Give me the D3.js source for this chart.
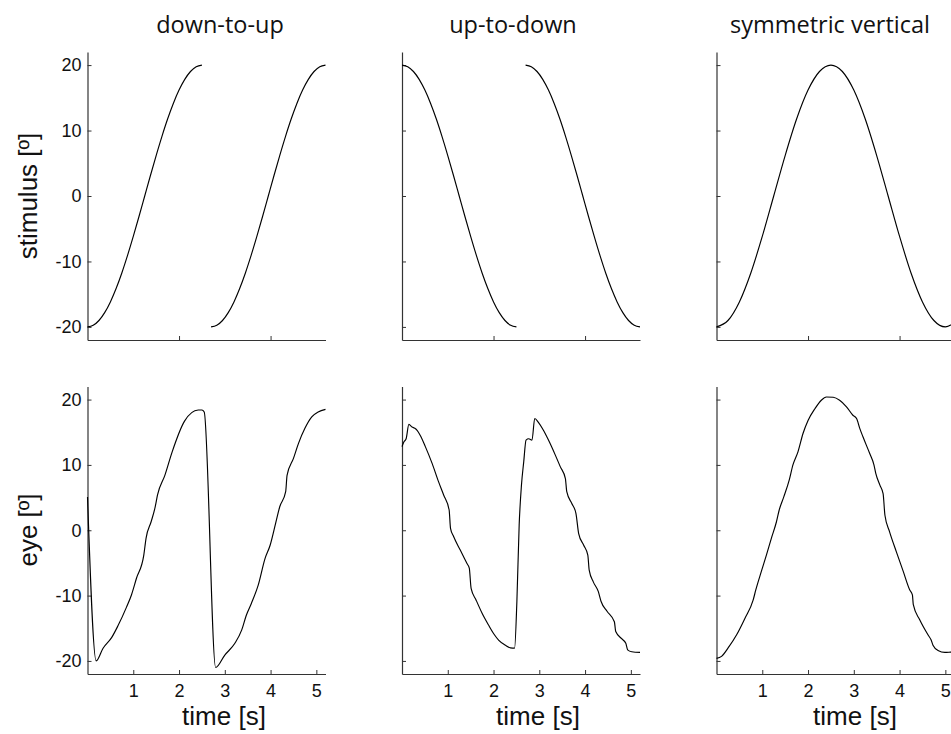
<!DOCTYPE html>
<html>
<head>
<meta charset="utf-8">
<script src="https://cdn.jsdelivr.net/npm/d3@7"></script>
<style>
  html, body { margin: 0; padding: 0; background: #fff; }
  svg { display: block; }
  .tick text { font-family: "Liberation Sans", Arial, Helvetica, sans-serif; font-size: 18px; fill: #111; }
</style>
</head>
<body>
<svg id="chart" width="951" height="734"></svg>
<script>
// ---------- data ----------
const panelTitles = ["down-to-up", "up-to-down", "symmetric vertical"];
const rowLabels = ["stimulus [º]", "eye [º]"];
const xLabel = "time [s]";
const yTicks = [-20, -10, 0, 10, 20];
const xTicksTop = [2, 4];
const xTicksBottom = [1, 2, 3, 4, 5];

// stimulus: rising / falling half-cycles
const stimT1 = [0,0.125,0.25,0.375,0.5,0.625,0.75,0.875,1,1.125,1.25,1.375,1.5,1.625,1.75,1.875,2,2.125,2.25,2.375,2.5];
const stimT2 = [2.7,2.825,2.95,3.075,3.2,3.325,3.45,3.575,3.7,3.825,3.95,4.075,4.2,4.325,4.45,4.575,4.7,4.825,4.95,5.075,5.2];
const riseVals = [-20,-19.75,-19.02,-17.82,-16.18,-14.14,-11.76,-9.08,-6.18,-3.13,0,3.13,6.18,9.08,11.76,14.14,16.18,17.82,19.02,19.75,20];
const fallVals = [20,19.75,19.02,17.82,16.18,14.14,11.76,9.08,6.18,3.13,0,-3.13,-6.18,-9.08,-11.76,-14.14,-16.18,-17.82,-19.02,-19.75,-20];
// symmetric stimulus
const symT = [0,0.25,0.5,0.75,1,1.25,1.5,1.75,2,2.25,2.5,2.75,3,3.25,3.5,3.75,4,4.25,4.5,4.75,5,5.2];
const symVals = [-20,-19.02,-16.18,-11.76,-6.18,0,6.18,11.76,16.18,19.02,20,19.02,16.18,11.76,6.18,0,-6.18,-11.76,-16.18,-19.02,-20,-19.37];

// eye traces
const eyeUpT = [0,0.19,0.34,0.53,0.66,0.85,0.96,1.07,1.23,1.28,1.39,1.48,1.53,1.69,1.85,2.12,2.42,2.5,2.55,2.8,3.0,3.22,3.37,3.47,3.58,3.73,3.88,3.99,4.11,4.2,4.33,4.36,4.5,4.61,4.75,4.9,5.04,5.2];
const eyeUpV = [5.1,-20.0,-18.05,-16.4,-14.7,-11.8,-9.9,-7.35,-3.8,-1.2,1.3,3.6,5.4,8.4,12.0,16.7,18.4,18.4,18.1,-21.0,-19.1,-17.3,-15.25,-13.0,-11.2,-8.4,-4.3,-2.3,1.05,3.6,5.9,8.4,11.0,13.3,15.6,17.35,18.1,18.5];

const eyeDownT = [0,0.04,0.09,0.15,0.22,0.28,0.33,0.4,0.51,0.66,0.8,0.91,1.03,1.06,1.13,1.27,1.42,1.47,1.51,1.62,1.75,1.89,2.0,2.11,2.26,2.37,2.46,2.51,2.56,2.61,2.66,2.71,2.77,2.84,2.9,2.98,3.09,3.2,3.35,3.46,3.57,3.6,3.71,3.8,3.86,3.97,4.06,4.09,4.18,4.29,4.35,4.48,4.64,4.67,4.8,4.89,4.93,5.02,5.2];
const eyeDownV = [12.8,13.5,14.0,16.2,15.8,15.6,15.3,14.5,12.8,10.2,7.4,5.4,3.1,0.3,-1.0,-3.0,-5.1,-5.8,-8.9,-10.7,-12.7,-14.5,-15.8,-16.8,-17.6,-18.0,-18.05,-10.9,0.8,6.9,10.5,13.8,14.0,13.8,17.1,16.5,15.3,13.8,11.5,9.7,7.9,5.9,4.1,2.6,-0.5,-2.3,-3.8,-6.1,-7.9,-9.4,-10.9,-12.4,-14.0,-15.5,-16.6,-17.3,-18.3,-18.6,-18.7];

const eyeSymT = [0,0.11,0.25,0.44,0.62,0.8,0.86,0.98,1.09,1.2,1.31,1.37,1.47,1.59,1.67,1.78,1.89,2.0,2.15,2.29,2.4,2.55,2.69,2.84,2.98,3.06,3.13,3.2,3.35,3.44,3.48,3.57,3.64,3.68,3.78,3.93,4.08,4.22,4.28,4.3,4.44,4.62,4.69,4.73,4.84,4.99,5.11,5.2];
const eyeSymV = [-19.6,-19.3,-18.05,-16.0,-13.5,-10.7,-9.1,-6.3,-3.8,-1.2,1.3,3.1,5.1,7.7,10.0,12.0,14.8,16.8,18.6,19.9,20.4,20.35,19.9,18.9,17.6,17.1,15.6,14.3,11.7,10.0,8.7,6.9,5.6,2.3,-0.2,-3.3,-6.3,-9.1,-9.9,-11.4,-13.7,-16.0,-16.8,-17.6,-18.4,-18.7,-18.65,-18.6];

// ---------- layout ----------
const svg = d3.select("#chart");
const panelLeft = [87.5, 402, 716.5];
const panelWidth = 238;
const rows = [{top: 52, bottom: 340}, {top: 386.5, bottom: 674}];
const titleX = [220, 513, 830];
const xLabelX = [224, 538, 855];

const zip = (ts, vs) => ts.map((t, i) => ({t, v: vs[i]}));

const panelSeries = [
  [ [zip(stimT1, riseVals), zip(stimT2, riseVals)], [zip(eyeUpT, eyeUpV)] ],
  [ [zip(stimT1, fallVals), zip(stimT2, fallVals)], [zip(eyeDownT, eyeDownV)] ],
  [ [zip(symT, symVals)], [zip(eyeSymT, eyeSymV)] ]
];

const axisColor = "#333";

for (let c = 0; c < 3; c++) {
  for (let r = 0; r < 2; r++) {
    const x = d3.scaleLinear().domain([0, 5.2]).range([panelLeft[c], panelLeft[c] + panelWidth]);
    const y = d3.scaleLinear().domain([-22, 22]).range([rows[r].bottom, rows[r].top]);
    const g = svg.append("g");

    const yAxis = d3.axisLeft(y).tickValues(yTicks).tickSizeInner(-4).tickSizeOuter(0).tickPadding(6)
      .tickFormat(c === 0 ? (d => String(d)) : () => "");
    const ya = g.append("g").attr("transform", `translate(${panelLeft[c]},0)`).call(yAxis);

    const xAxis = d3.axisBottom(x).tickValues(r === 0 ? xTicksTop : xTicksBottom)
      .tickSizeInner(-4).tickSizeOuter(0).tickPadding(10)
      .tickFormat(r === 0 ? () => "" : (d => String(d)));
    const xa = g.append("g").attr("transform", `translate(0,${rows[r].bottom})`).call(xAxis);

    [ya, xa].forEach(a => {
      a.select(".domain").attr("stroke", axisColor).attr("stroke-width", 1.2);
      a.selectAll(".tick line").attr("stroke", axisColor).attr("stroke-width", 1);
    });

    const line = d3.line().x(d => x(d.t)).y(d => y(d.v)).curve(d3.curveMonotoneX);
    panelSeries[c][r].forEach(seg => {
      g.append("path").datum(seg).attr("d", line)
        .attr("fill", "none").attr("stroke", "#000").attr("stroke-width", 1.15)
        .attr("stroke-linejoin", "round");
    });

    if (r === 1) {
      g.append("text").attr("x", xLabelX[c]).attr("y", 725).attr("text-anchor", "middle")
        .attr("font-family", "'Liberation Sans', Arial, Helvetica, sans-serif").attr("font-size", 26)
        .attr("fill", "#111").text(xLabel);
    }
  }
  svg.append("text").attr("x", titleX[c]).attr("y", 33).attr("text-anchor", "middle")
    .attr("font-family", "'Open Sans', sans-serif").attr("font-size", 23.5)
    .attr("fill", "#111").text(panelTitles[c]);
}

// row labels
[196, 530].forEach((cy, i) => {
  svg.append("text").attr("transform", `translate(37,${cy}) rotate(-90)`).attr("text-anchor", "middle")
    .attr("font-family", "'Liberation Sans', Arial, Helvetica, sans-serif").attr("font-size", 26)
    .attr("fill", "#111").text(rowLabels[i]);
});
</script>
</body>
</html>
